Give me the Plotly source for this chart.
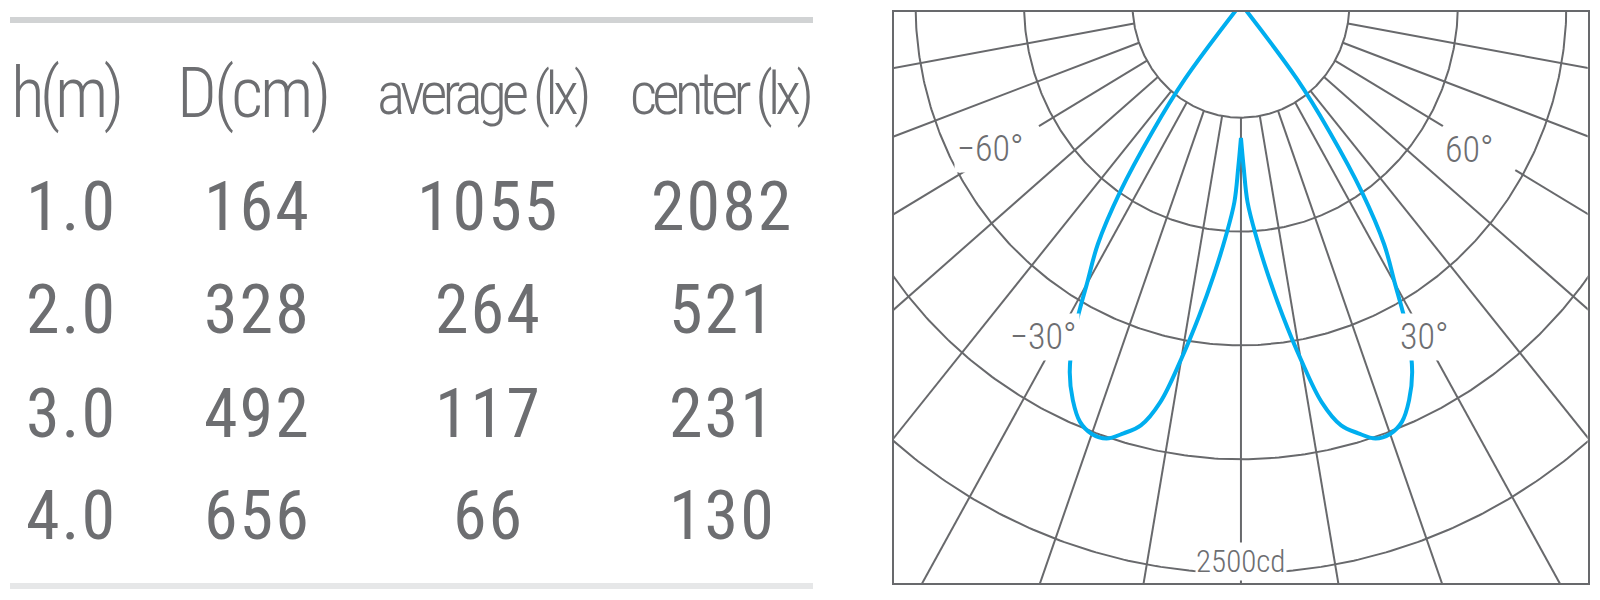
import numpy as np
import plotly.graph_objects as go

# ---------------- table data ----------------
HEADERS = ["h(m)", "D(cm)", "average (lx)", "center (lx)"]
HEIGHT_M = ["1.0", "2.0", "3.0", "4.0"]
DIAMETER_CM = [164, 328, 492, 656]
AVERAGE_LX = [1055, 264, 117, 66]
CENTER_LX = [2082, 521, 231, 130]

# ---------------- polar (candela) diagram data ----------------
RING_CD = [500, 1000, 1500, 2000, 2500]
RADIAL_ANGLES = [-80, -70, -60, -50, -40, -30, -20, -10, 0, 10, 20, 30, 40, 50, 60, 70, 80]
# intensity curve (symmetric), angle from nadir in degrees -> candela
BEAM_ANGLE = [0, 1, 2, 4, 6, 8, 10, 12, 14, 16, 18, 20, 22, 24, 26, 28, 29, 30, 32, 34, 36, 38, 39.6]
BEAM_CD = [589, 720, 872, 1030, 1198, 1383, 1583, 1788, 1908, 1962, 2007, 2010, 1980, 1905, 1800, 1640,
           1530, 1420, 1245, 996, 694, 420, 0]
ANGLE_LABELS = ["−60°", "60°", "−30°", "30°"]
SCALE_LABEL = "2500cd"

GRID = "#68696c"
BLUE = "#00aeef"
TEXT = "#6d6e71"
FONT = "Roboto Condensed"

W, H = 1600, 600


def px_x(p):
    return p / W


def px_y(p):
    return 1 - p / H


def polar_xy(angle_deg, r):
    a = np.radians(np.asarray(angle_deg, dtype=float))
    r = np.asarray(r, dtype=float)
    return r * np.sin(a), -r * np.cos(a)


fig = go.Figure()

# rings
rx, ry = [], []
t = np.linspace(-100, 100, 401)
for r in RING_CD:
    x, y = polar_xy(t, np.full_like(t, r))
    rx += list(x) + [None]
    ry += list(y) + [None]
fig.add_trace(go.Scatter(x=rx, y=ry, mode="lines", line=dict(color=GRID, width=2),
                         hoverinfo="skip", showlegend=False))

# radial lines (gaps where the angle labels sit)
GAPS = {30: (1585, 1800), 60: (1075, 1460)}
lx, ly = [], []
for a in RADIAL_ANGLES:
    segs = [(RING_CD[0], 4000)]
    if abs(a) in GAPS:
        g0, g1 = GAPS[abs(a)]
        segs = [(RING_CD[0], g0), (g1, 4000)]
    for r0, r1 in segs:
        x, y = polar_xy([a, a], [r0, r1])
        lx += list(x) + [None]
        ly += list(y) + [None]
fig.add_trace(go.Scatter(x=lx, y=ly, mode="lines", line=dict(color=GRID, width=2),
                         hoverinfo="skip", showlegend=False))

# intensity curve: two halves meeting at nadir cusp and at the centre
for sgn in (-1, 1):
    x, y = polar_xy(sgn * np.array(BEAM_ANGLE), BEAM_CD)
    fig.add_trace(go.Scatter(x=x, y=y, mode="lines",
                             line=dict(color=BLUE, width=4, shape="spline", smoothing=1.0),
                             hoverinfo="skip", showlegend=False))

# angle labels
label_pos = [(-1152, -637), (1051, -642), (-912, -1461), (848, -1461)]
for txt, (x, y) in zip(ANGLE_LABELS, label_pos):
    fig.add_annotation(x=x, y=y, xref="x", yref="y", text=txt, showarrow=False,
                       font=dict(family=FONT, size=36, color=TEXT, weight=300),
                       bgcolor="white", borderpad=2)
fig.add_annotation(x=0, y=-2450, xref="x", yref="y", text=SCALE_LABEL, showarrow=False,
                   font=dict(family=FONT, size=31, color=TEXT, weight=300),
                   bgcolor="white", borderpad=0)

# ---------------- table ----------------
head_x = [65, 252, 482, 720]
head_style = ["letter-spacing:-5px", "letter-spacing:-3px", "letter-spacing:-5px", "letter-spacing:-5px"]
head_size = [70, 70, 60, 60]
for txt, x, st, sz in zip(HEADERS, head_x, head_style, head_size):
    fig.add_annotation(x=px_x(x), y=px_y(93), xref="paper", yref="paper",
                       text=f'<span style="{st}">{txt}</span>',
                       showarrow=False, xanchor="center", yanchor="middle",
                       font=dict(family=FONT, size=sz, color=TEXT, weight=300))

col_x = [71, 257, 488, 722]
row_y = [207, 310, 413.5, 516]
columns = [HEIGHT_M, DIAMETER_CM, AVERAGE_LX, CENTER_LX]
for cx, col in zip(col_x, columns):
    for ry_, v in zip(row_y, col):
        fig.add_annotation(x=px_x(cx), y=px_y(ry_), xref="paper", yref="paper",
                           text=f'<span style="letter-spacing:2px">{v}</span>',
                           showarrow=False, xanchor="center", yanchor="middle",
                           font=dict(family=FONT, size=68, color=TEXT, weight=400))

# table rules
fig.add_shape(type="line", xref="paper", yref="paper", x0=px_x(10), x1=px_x(813), y0=px_y(20), y1=px_y(20),
              line=dict(color="#d1d3d4", width=6))
fig.add_shape(type="line", xref="paper", yref="paper", x0=px_x(10), x1=px_x(813), y0=px_y(586), y1=px_y(586),
              line=dict(color="#e6e7e8", width=6))

axis_common = dict(showgrid=False, zeroline=False, showticklabels=False, ticks="",
                   showline=True, mirror=True, linecolor=GRID, linewidth=2, fixedrange=True)
fig.update_layout(
    width=W, height=H, margin=dict(l=0, r=0, t=0, b=0),
    paper_bgcolor="white", plot_bgcolor="white", showlegend=False,
    xaxis=dict(domain=[px_x(894), px_x(1587.7)], range=[-1599, 1598], **axis_common),
    yaxis=dict(domain=[px_y(583.3), px_y(11.7)], range=[-2544.7, -34.7], **axis_common),
)
fig.write_html("out.html", config={"displayModeBar": False},
               post_script="document.body.style.margin='0px';")
